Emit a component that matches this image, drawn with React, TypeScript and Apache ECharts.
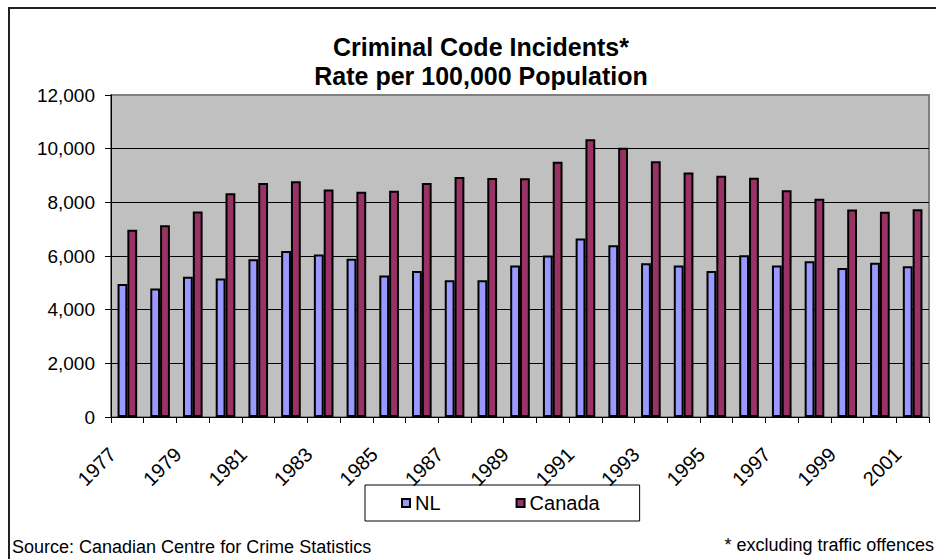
import React, { useEffect, useRef } from "react";
import * as echarts from "echarts";

const years = [
  "1977", "1978", "1979", "1980", "1981", "1982", "1983", "1984", "1985",
  "1986", "1987", "1988", "1989", "1990", "1991", "1992", "1993", "1994",
  "1995", "1996", "1997", "1998", "1999", "2000", "2001",
];
const nlValues = [
  4960, 4790, 5230, 5160, 5880, 6190, 6060, 5900, 5270, 5440, 5100, 5100,
  5650, 6020, 6650, 6400, 5730, 5650, 5440, 6030, 5650, 5800, 5550, 5750, 5620,
];
const canadaValues = [
  6980, 7150, 7660, 8340, 8720, 8790, 8480, 8390, 8430, 8720, 8940, 8910,
  8900, 9510, 10350, 10030, 9530, 9110, 8990, 8920, 8450, 8130, 7730, 7650, 7740,
];
const seriesNames = ["NL", "Canada"];
const titleText = "Criminal Code Incidents*\nRate per 100,000 Population";
const sourceText = "Source: Canadian Centre for Crime Statistics";
const noteText = "* excluding traffic offences";

const FONT = "'Liberation Sans', Arial, sans-serif";

export default function App() {
  const ref = useRef<HTMLDivElement>(null);
  useEffect(() => {
    if (!ref.current) return;
    const chart = echarts.init(ref.current, null, { renderer: "svg" });
    chart.setOption({
      animation: false,
      backgroundColor: "#ffffff",
      title: {
        text: titleText,
        left: 476,
        top: 27,
        textAlign: "center",
        textStyle: {
          fontFamily: FONT,
          fontSize: 25,
          fontWeight: "bold",
          lineHeight: 29,
          color: "#000",
        },
      },
      legend: {
        data: seriesNames,
        left: 365,
        top: 485,
        orient: "horizontal",
        icon: "rect",
        itemWidth: 8,
        itemHeight: 8,
        itemGap: 75,
        padding: [8, 40, 8, 36],
        borderColor: "#000",
        borderWidth: 1,
        textStyle: { fontFamily: FONT, fontSize: 20, color: "#000" },
      },
      grid: {
        left: 111,
        top: 95,
        right: 7,
        bottom: 142,
        show: true,
        backgroundColor: "#C0C0C0",
        borderColor: "#808080",
        borderWidth: 2,
      },
      xAxis: {
        type: "category",
        data: years,
        axisLine: { lineStyle: { color: "#000", width: 1 } },
        axisTick: {
          show: true,
          interval: 0,
          alignWithLabel: false,
          length: 6,
          lineStyle: { color: "#000" },
        },
        axisLabel: {
          interval: 1,
          rotate: 45,
          margin: 19,
          padding: [0, 21, 0, 0],
          fontFamily: FONT,
          fontSize: 20,
          color: "#000",
        },
      },
      yAxis: {
        type: "value",
        min: 0,
        max: 12000,
        interval: 2000,
        axisLine: { show: true, lineStyle: { color: "#000", width: 1 } },
        axisTick: { show: true, length: 6, lineStyle: { color: "#000" } },
        axisLabel: {
          margin: 16,
          fontFamily: FONT,
          fontSize: 19,
          color: "#000",
          formatter: (v: number) => v.toLocaleString("en-US"),
        },
        splitLine: {
          show: true,
          showMinLine: false,
          showMaxLine: false,
          lineStyle: { color: "#000", width: 1 },
        },
      },
      series: [
        {
          name: seriesNames[0],
          type: "bar",
          data: nlValues,
          barGap: "0%",
          barCategoryGap: "40%",
          itemStyle: { color: "#9999FF", borderColor: "#000", borderWidth: 2 },
        },
        {
          name: seriesNames[1],
          type: "bar",
          data: canadaValues,
          barGap: "0%",
          barCategoryGap: "40%",
          itemStyle: { color: "#993366", borderColor: "#000", borderWidth: 2 },
        },
      ],
      graphic: [
        {
          type: "rect",
          shape: { x: 9, y: 8, width: 960, height: 600 },
          style: { fill: "none", stroke: "#222", lineWidth: 2 },
          silent: true,
          z: 100,
        },
        {
          type: "text",
          x: 12,
          y: 547,
          style: {
            text: sourceText,
            fontFamily: FONT,
            fontSize: 18,
            fill: "#000",
            textAlign: "left",
            textVerticalAlign: "middle",
          },
        },
        {
          type: "text",
          x: 934,
          y: 545,
          style: {
            text: noteText,
            fontFamily: FONT,
            fontSize: 18,
            fill: "#000",
            textAlign: "right",
            textVerticalAlign: "middle",
          },
        },
      ],
    });
    return () => chart.dispose();
  }, []);
  return (
    <div
      ref={ref}
      style={{ position: "fixed", left: 0, top: 0, width: 936, height: 559 }}
    />
  );
}
